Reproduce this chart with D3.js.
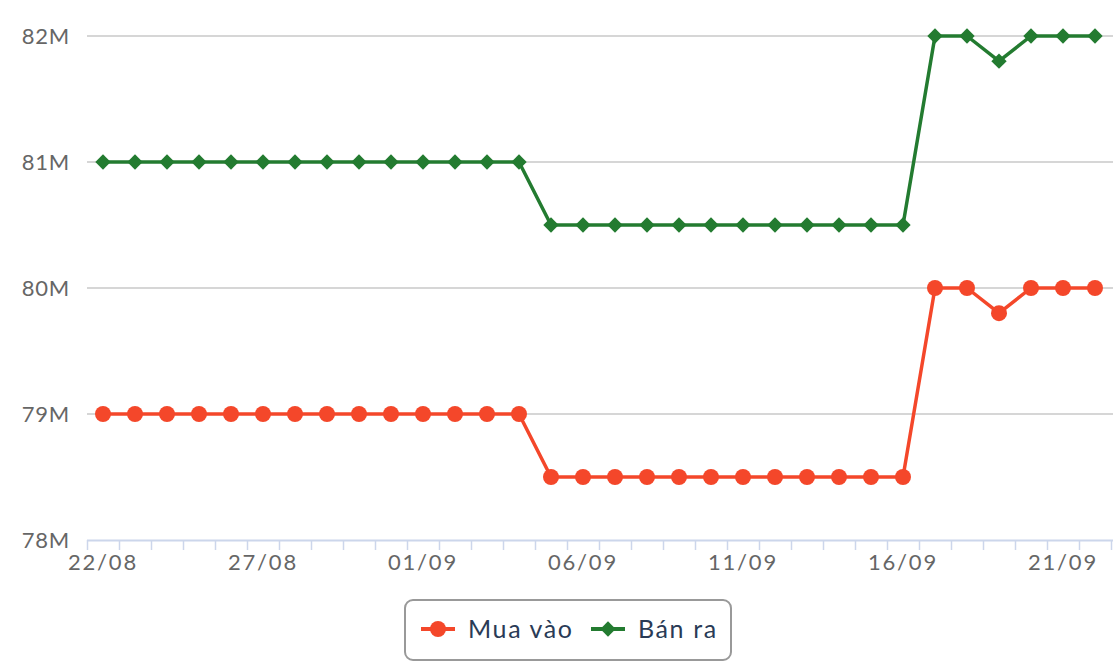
<!DOCTYPE html>
<html>
<head>
<meta charset="utf-8">
<script src="https://cdn.jsdelivr.net/npm/d3@7"></script>
<style>
  html, body { margin: 0; padding: 0; background: #fff; }
  svg { display: block; }
</style>
</head>
<body>
<svg id="chart" width="1120" height="668"></svg>
<script>
const dates = ["22/08","23/08","24/08","25/08","26/08","27/08","28/08","29/08","30/08","31/08",
  "01/09","02/09","03/09","04/09","05/09","06/09","07/09","08/09","09/09","10/09",
  "11/09","12/09","13/09","14/09","15/09","16/09","17/09","18/09","19/09","20/09","21/09","22/09"];
const muaVao = [79,79,79,79,79,79,79,79,79,79,79,79,79,79,
  78.5,78.5,78.5,78.5,78.5,78.5,78.5,78.5,78.5,78.5,78.5,78.5,
  80,80,79.8,80,80,80];
const banRa = [81,81,81,81,81,81,81,81,81,81,81,81,81,81,
  80.5,80.5,80.5,80.5,80.5,80.5,80.5,80.5,80.5,80.5,80.5,80.5,
  82,82,81.8,82,82,82];
const yTicks = [78,79,80,81,82];
const labelEvery = 5;
const seriesNames = ["Mua vào","Bán ra"];
const colors = ["#f4472a","#237b30"];

(function () {
const svg = d3.select("#chart");
const font = "Lato, 'DejaVu Sans', sans-serif";
const mLeft = 87, mRight = 1111, mTop = 36, mBottom = 540;

const x = d3.scaleBand().domain(dates).range([mLeft, mRight]).padding(0);
const xb = d3.scaleLinear().domain([0, dates.length]).range([mLeft, mRight]);
const y = d3.scaleLinear().domain([78, 82]).range([mBottom, mTop]);
const cx = d => x(d) + x.bandwidth() / 2;

// gridlines
svg.append("g").selectAll("line").data(yTicks.filter(t => t !== 78)).join("line")
  .attr("x1", mLeft).attr("x2", mRight + 2)
  .attr("y1", d => y(d)).attr("y2", d => y(d))
  .attr("stroke", "#c8c8c8").attr("stroke-width", 1.5);

// y labels
svg.append("g").selectAll("text").data(yTicks).join("text")
  .attr("x", 70).attr("y", d => y(d) + 8)
  .attr("text-anchor", "end")
  .attr("font-family", font).attr("font-size", 22)
  .attr("fill", "#666").attr("letter-spacing", 0.8)
  .text(d => d + "M");

// x axis line and ticks
const xAxis = d3.axisBottom(xb).tickValues(d3.range(0, dates.length + 1)).tickSize(10).tickFormat("");
const gx = svg.append("g").attr("transform", `translate(0,${mBottom})`).call(xAxis);
gx.select(".domain").attr("stroke", "#ccd6eb").attr("stroke-width", 2).attr("d", `M${mLeft},0.5H${mRight + 2}`);
gx.selectAll(".tick line").attr("stroke", "#ccd6eb").attr("stroke-width", 1.5);

// x labels
svg.append("g").selectAll("text").data(dates.filter((d, i) => i % labelEvery === 0)).join("text")
  .attr("x", d => cx(d)).attr("y", 570)
  .attr("text-anchor", "middle")
  .attr("font-family", font).attr("font-size", 22)
  .attr("fill", "#666").attr("letter-spacing", 1.8)
  .text(d => d);

// lines
const line = d3.line().x((d, i) => cx(dates[i])).y(d => y(d));
[muaVao, banRa].forEach((s, k) => {
  svg.append("path").datum(s).attr("d", line)
    .attr("fill", "none").attr("stroke", colors[k]).attr("stroke-width", 3.5)
    .attr("stroke-linejoin", "round");
});

// markers
svg.append("g").selectAll("circle").data(muaVao).join("circle")
  .attr("cx", (d, i) => cx(dates[i])).attr("cy", d => y(d)).attr("r", 8)
  .attr("fill", colors[0]);
const diamond = d3.symbol().type(d3.symbolDiamond2).size(150);
svg.append("g").selectAll("path").data(banRa).join("path")
  .attr("transform", (d, i) => `translate(${cx(dates[i])},${y(d)})`)
  .attr("d", diamond()).attr("fill", colors[1]);

// legend
const lg = svg.append("g");
lg.append("rect").attr("x", 405).attr("y", 600).attr("width", 326).attr("height", 60)
  .attr("rx", 8).attr("fill", "#fff").attr("stroke", "#999").attr("stroke-width", 2);
const items = [{x: 421, tx: 468}, {x: 591, tx: 638}];
items.forEach((it, k) => {
  lg.append("line").attr("x1", it.x).attr("x2", it.x + 34).attr("y1", 629).attr("y2", 629)
    .attr("stroke", colors[k]).attr("stroke-width", 4);
  if (k === 0) {
    lg.append("circle").attr("cx", it.x + 17).attr("cy", 629).attr("r", 8).attr("fill", colors[k]);
  } else {
    lg.append("path").attr("transform", `translate(${it.x + 17},629)`).attr("d", diamond()).attr("fill", colors[k]);
  }
  lg.append("text").attr("x", it.tx).attr("y", 638)
    .attr("font-family", font).attr("font-size", 25)
    .attr("fill", "#2a3b56").attr("letter-spacing", 1.6)
    .text(seriesNames[k]);
});
})();
</script>
</body>
</html>
